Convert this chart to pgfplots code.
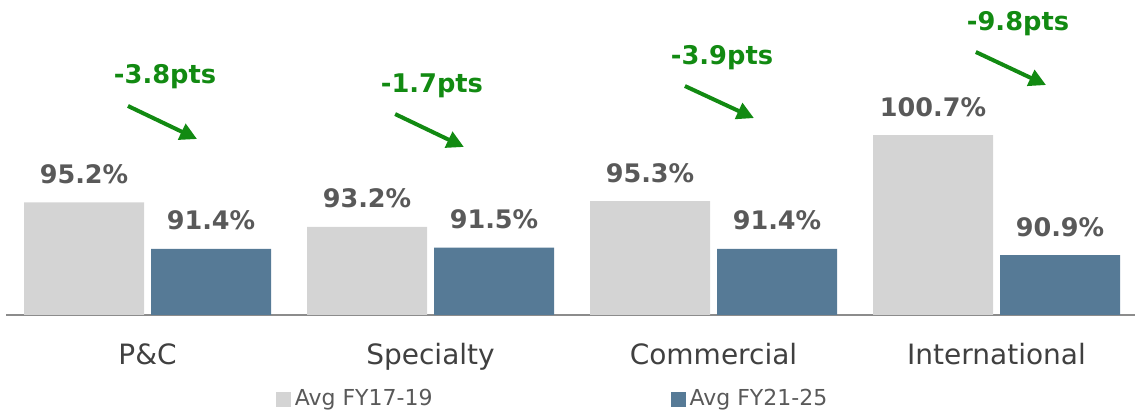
\documentclass[border=0pt]{standalone}
\usepackage{fontspec}
\setmainfont{DejaVu Sans}
\usepackage{pgfplots}
\pgfplotsset{compat=1.18}
\usetikzlibrary{arrows.meta,calc}
\definecolor{lightbar}{HTML}{D4D4D4}
\definecolor{darkbar}{HTML}{567A96}
\definecolor{valgray}{HTML}{595959}
\definecolor{ticktext}{HTML}{404040}
\definecolor{anngreen}{HTML}{128A12}
\definecolor{axisgray}{HTML}{8C8C8C}
\begin{document}
\begin{tikzpicture}
\begin{axis}[
 name=ax,
 at={(0,0)}, anchor=south west,
 scale only axis, width=564.5pt, height=157.5pt,
 xmin=-0.5, xmax=3.4894, ymin=86, ymax=111.74,
 axis x line*=bottom, axis y line=none,
 x axis line style={draw=axisgray, line width=1pt, -},
 xtick={0,1,2,3}, xticklabels={P\&C,Specialty,Commercial,International},
 major tick length=0pt,
 xticklabel style={font=\fontsize{14}{16}\selectfont, text=ticktext, anchor=base, yshift=-25pt},
 ytick=\empty,
 ybar, bar width=60pt,
 nodes near coords={\pgfmathprintnumber[fixed,fixed zerofill,precision=1,assume math mode=true]{\pgfplotspointmeta}\%},
 every node near coord/.append style={font=\fontsize{12.75}{14}\selectfont\bfseries, text=valgray, anchor=base, yshift=9.5pt},
 legend columns=2,
 legend style={draw=none, fill=none, at={(0.485,-0.2667)}, anchor=center, font=\fontsize{11}{13}\selectfont, text=valgray, /tikz/every even column/.append style={column sep=117pt}},
 legend image code/.code={\fill[#1] (0pt,-3.75pt) rectangle (7.5pt,3.75pt);},
]
\addplot[fill=lightbar, draw=none, bar shift=-31.75pt] coordinates {(0,95.2) (1,93.2) (2,95.3) (3,100.7)};
\addplot[fill=darkbar, draw=none, bar shift=31.75pt] coordinates {(0,91.4) (1,91.5) (2,91.4) (3,90.9)};
\legend{Avg FY17-19, Avg FY21-25}
\node[anchor=base, text=anngreen, font=\fontsize{12.85}{15}\selectfont\bfseries] at (axis cs:0.062,104.95) {-3.8pts};
\node[anchor=base, text=anngreen, font=\fontsize{12.85}{15}\selectfont\bfseries] at (axis cs:1.005,104.22) {-1.7pts};
\node[anchor=base, text=anngreen, font=\fontsize{12.85}{15}\selectfont\bfseries] at (axis cs:2.030,106.51) {-3.9pts};
\node[anchor=base, text=anngreen, font=\fontsize{12.85}{15}\selectfont\bfseries] at (axis cs:3.076,109.28) {-9.8pts};
\draw[anngreen, line width=2pt, -{Triangle[length=8.5pt,width=8.5pt]}] (axis cs:-0.069,103.08) -- (axis cs:0.175,100.38);
\draw[anngreen, line width=2pt, -{Triangle[length=8.5pt,width=8.5pt]}] (axis cs:0.875,102.42) -- (axis cs:1.118,99.73);
\draw[anngreen, line width=2pt, -{Triangle[length=8.5pt,width=8.5pt]}] (axis cs:1.899,104.71) -- (axis cs:2.143,102.09);
\draw[anngreen, line width=2pt, -{Triangle[length=8.5pt,width=8.5pt]}] (axis cs:2.927,107.49) -- (axis cs:3.175,104.79);
\end{axis}
\pgfresetboundingbox
\useasboundingbox ($(ax.south west)+(-3pt,-48pt)$) rectangle ($(ax.south west)+(564.5pt,157.5pt)$);
\end{tikzpicture}
\end{document}
